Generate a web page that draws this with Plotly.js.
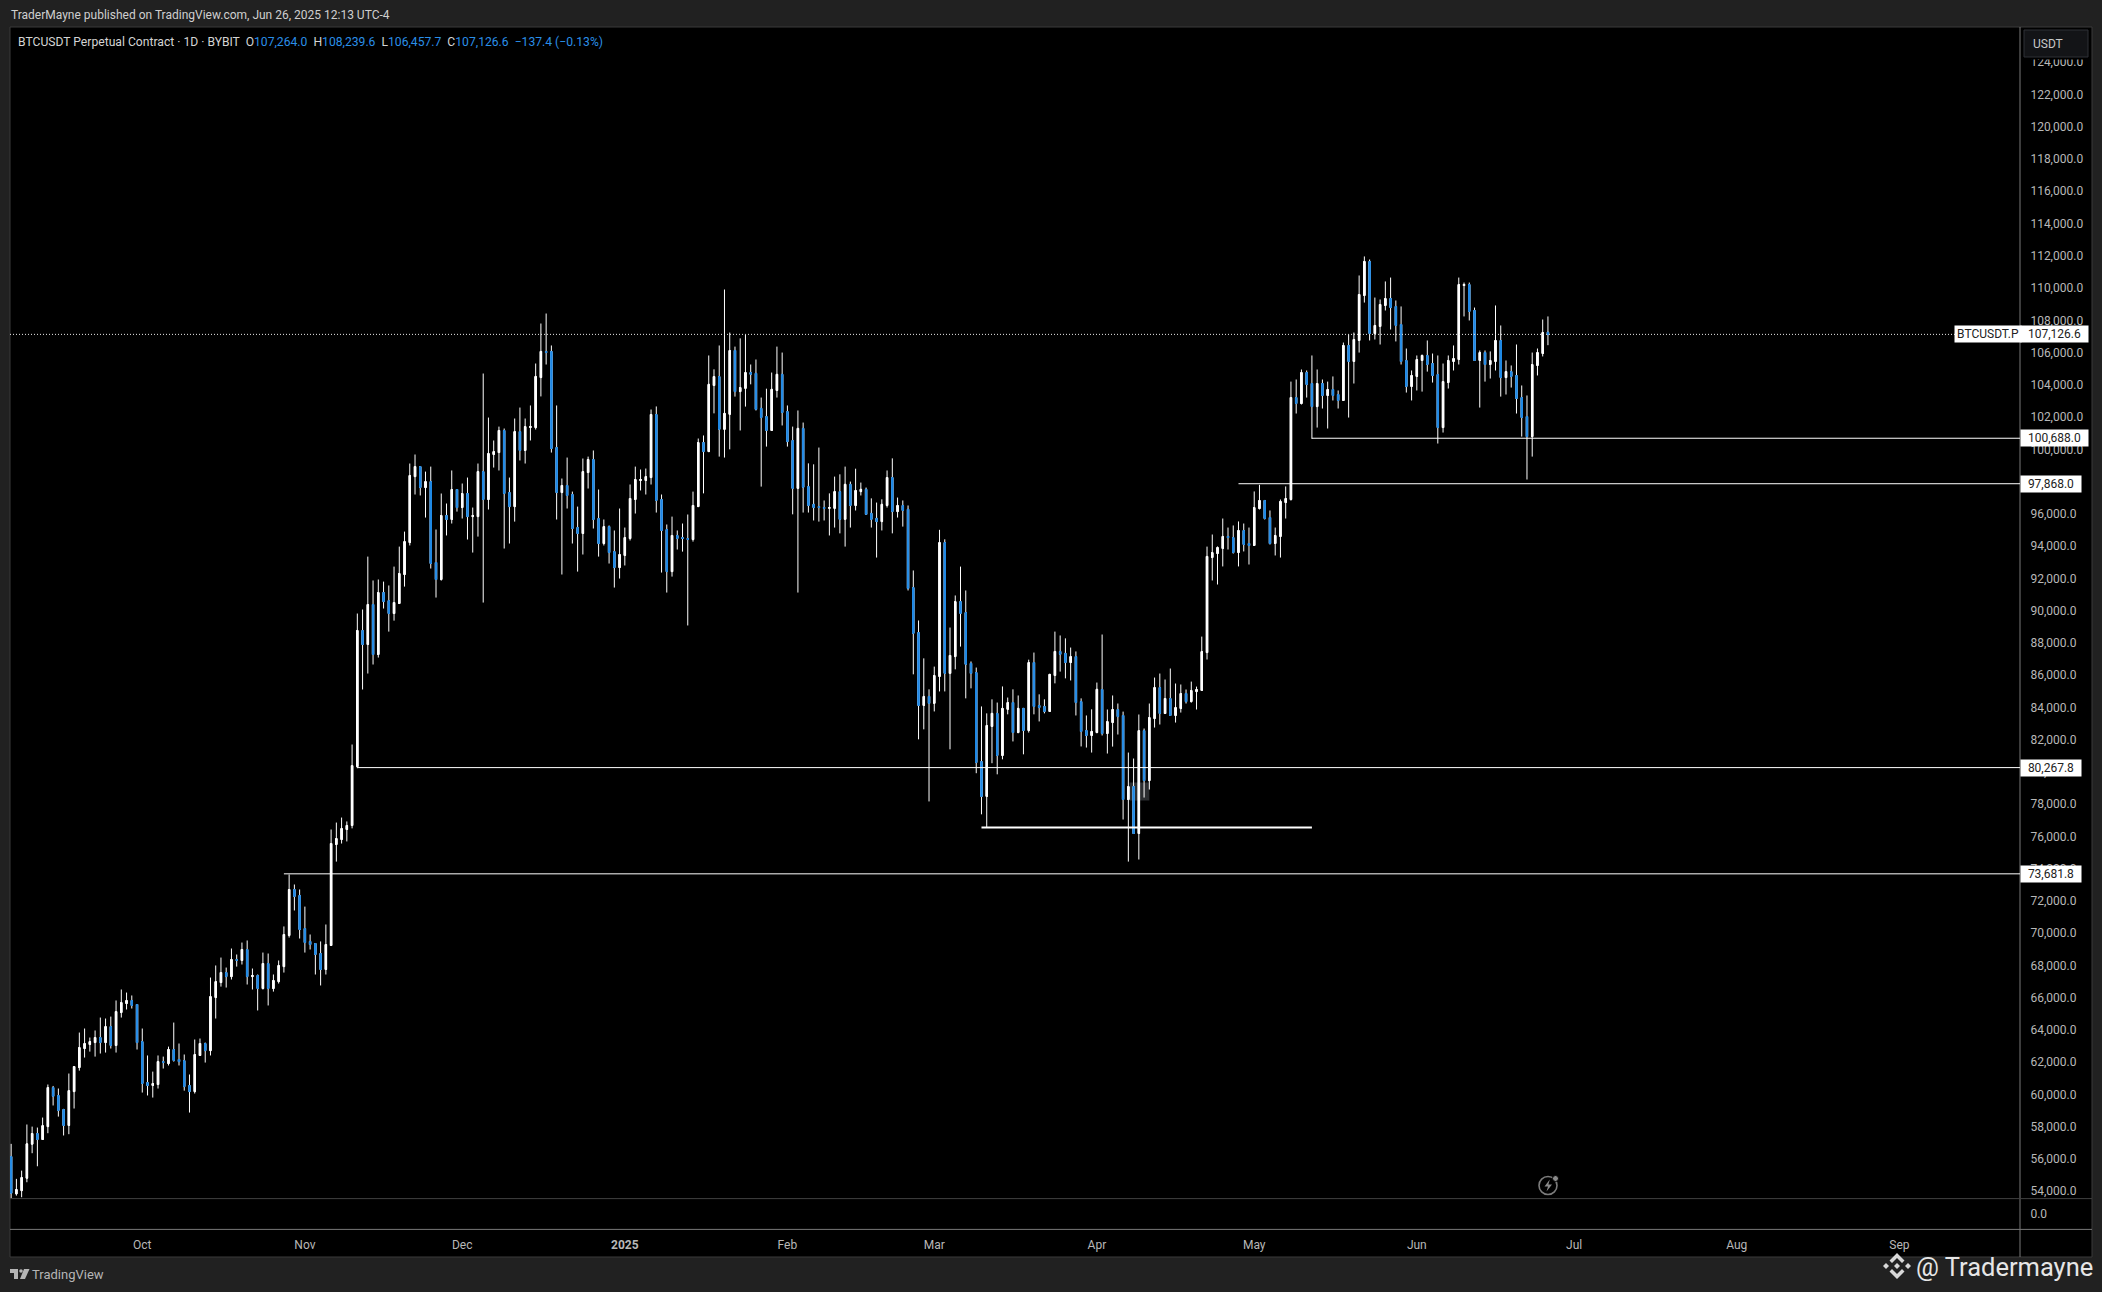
<!DOCTYPE html>
<html><head><meta charset="utf-8">
<script src="https://cdn.plot.ly/plotly-3.0.1.min.js"></script>
<style>html,body{margin:0;padding:0;background:#212121;overflow:hidden}#c{width:2102px;height:1292px}</style>
</head><body><div id="c"></div>
<script>
var firstDay = '2024-09-06';
var opens = [
56150,53840,54040,54810,56920,57580,57210,58010,60430,59940,
59070,58080,60180,61670,62850,63100,63220,63530,63220,64210,
63040,65080,65640,65830,65580,63280,60740,60560,60620,62040,
61920,62790,62170,62100,60560,60180,62420,63160,62720,66010,
66940,67560,67310,68370,68310,68990,67310,67380,66570,68120,
66570,67000,67930,69860,72710,72340,70290,69490,69360,68740,
67750,69240,75500,75810,76430,76680,80330,88770,87900,90380,
87280,91120,90620,89820,90440,92240,94220,98310,98930,97630,
98000,92980,91930,95900,95650,97510,96390,97260,95830,95830,
98620,96890,99680,99800,101170,97320,96450,101100,99930,101350,
101350,104450,106070,106070,100110,97320,97760,97200,95150,94780,
98560,99370,95710,94160,95210,93660,92670,93420,94470,96890,
98070,98070,98250,102160,96890,95030,92420,94660,94530,94470,
94410,96450,100420,99860,103960,104510,101240,102170,106130,103580,
103780,104760,104710,102540,102030,101170,103650,104650,102340,100550,
97580,101300,97690,96590,96450,96390,96340,96340,97380,95660,
97830,96520,97380,97520,96030,95720,95520,96520,98250,96140,
96520,96280,91430,88640,84120,84680,84250,85920,94220,86110,
87150,90560,89880,86730,86160,80640,78480,82820,83630,81020,
83880,84300,82440,83940,82570,86780,84120,84060,83750,85980,
87470,87350,86780,87150,84360,82570,82260,82440,85110,82380,
83060,83870,83500,78290,79090,76180,82560,79460,83310,85230,
83620,84550,83500,83930,84860,84360,84980,85050,87400,93290,
93540,93850,94600,94530,93600,94970,94160,94040,96330,96830,
95770,94160,94600,96700,96890,103210,102840,104760,104080,102650,
104080,103340,103710,103400,103030,106440,105450,106750,109540,111650,
107180,107620,108920,109350,108860,107740,105510,103900,104520,105510,
105820,105320,104640,101350,104140,105450,105570,110160,110220,108610,
105510,106000,105260,105450,106750,104450,104820,104580,103210,102030,
100790,105200,105940,107264];
var highs = [
56940,54770,55280,58140,58010,57950,58570,60620,60530,60370,
59110,61300,61730,63840,64090,63530,63970,64770,64710,64830,
65830,66510,66320,66140,65580,64090,62420,61420,62420,62350,
62970,64460,63160,62480,61240,63410,63470,63220,67250,68000,
68490,67870,69050,68680,69420,69550,67810,67440,68800,68740,
67440,68310,70420,73640,73020,72710,71650,69920,69360,69490,
70540,76430,76860,77170,76930,81700,89820,90070,93350,91870,
91930,91800,91560,92730,93970,94900,99120,99680,98930,98620,
98930,95030,97260,96640,98690,97510,97880,98250,96390,99120,
104700,101970,100550,101410,101290,98250,101910,102590,101910,102720,
105320,107800,108420,106440,102720,98190,99490,97380,96450,99430,
99550,99930,97510,95650,95280,94970,96330,95150,97820,98930,
98750,98810,102470,102660,97200,95340,95830,94970,95400,95960,
97380,100670,100860,105820,104960,106440,109910,107240,106370,106880,
107100,105260,105570,103210,103760,104760,106370,106000,102720,101410,
102410,101660,99130,99070,100110,96830,97270,98310,98450,98930,
98000,98800,97940,97630,96960,96700,96900,98690,99440,97010,
96830,96520,92490,89390,87040,85120,86530,95010,94420,88950,
90940,92730,91250,86850,86470,84060,83630,84500,84300,85300,
84610,85120,84740,83940,86960,87400,84810,84500,86050,88700,
88460,88280,87710,87470,84560,83500,83880,85540,88520,83870,
84740,84240,83740,81200,80830,83560,82690,84240,85850,86100,
85730,86410,85480,85420,85110,85600,85290,88390,93970,94720,
93980,95710,95150,95280,95530,95400,95150,97390,97800,96830,
96210,95150,96890,97700,104200,104330,104950,104890,105820,104950,
104330,104200,104520,103650,106620,107120,107240,110780,111960,111770,
109410,109290,110410,110650,109230,108860,106250,104890,105820,105880,
106750,105940,105820,105320,105820,106440,110650,110340,110340,108790,
106130,106130,106070,108920,107680,105510,105200,106500,103960,103340,
106000,106250,108050,108239.6];
var lows = [
53550,53730,53630,54560,56360,55550,57200,57600,59320,58630,
57460,57540,59130,61480,62290,62660,62350,62540,62600,62850,
62600,64770,65270,65330,62790,60120,59940,59810,60370,61610,
61800,62040,61800,60240,58880,60060,62410,61980,62420,64710,
66690,66630,67130,67930,68060,66820,66510,65210,66510,65520,
66380,66880,67560,69730,71410,69670,68800,68990,67440,66760,
67440,69230,74440,75560,75690,76500,80230,85110,86100,86660,
87090,90130,88700,89380,90430,91490,94040,97200,97140,95770,
92610,90810,91860,94660,95400,96140,95710,94410,93600,94590,
90500,96270,98870,98690,93850,94160,95520,99310,99120,100550,
101230,103280,105260,99800,95650,92240,96330,94160,92420,93480,
97570,95090,93350,94040,92920,91430,91990,92800,94350,96020,
97450,97200,97820,96080,92360,91120,92110,93790,93660,89080,
94280,96440,97270,99860,102230,99550,99490,100000,103270,101170,
102650,104030,102410,97690,100170,101160,103210,101480,100170,95970,
91120,96080,96080,95590,95520,95590,94660,95150,94790,93970,
95150,96210,97140,95960,95150,93290,94970,96390,94790,95770,
95210,91250,86050,82020,82640,78170,83750,84990,84990,81400,
86360,87770,84560,85180,79920,77370,76570,80540,79850,80780,
83570,81890,82400,81090,82440,83570,83130,83630,83740,85490,
86220,85800,85670,83500,81580,81510,81200,82400,82260,81140,
81570,82320,77050,74440,76170,74570,78410,78910,82750,82940,
83610,83490,83060,83680,84240,84300,83870,85040,86970,91870,
91620,92740,93790,93540,92740,93670,92860,94030,96270,95650,
94100,93420,93290,95710,96820,102220,102780,103210,100650,101350,
102530,101290,103030,102530,103020,101970,104080,106000,109100,106750,
106810,106500,108610,107430,106690,105260,103520,103030,103650,103580,
104820,104140,100360,101040,103770,104890,105260,108240,107990,105500,
102590,104200,104390,104890,103270,103400,103830,102220,100790,98130,
99550,104580,105760,106457.7];
var closes = [
53880,54110,54850,56940,57580,57210,58070,60430,59890,59010,
58080,60240,61730,62910,63160,63280,63530,63220,64210,63040,
65140,65700,65830,65520,63220,60680,60560,60680,62040,61980,
62790,62110,62040,60490,60180,62480,63160,62720,66070,67000,
67560,67310,68370,68310,68990,67310,67380,66570,68120,66570,
67070,68000,69920,72710,72280,70230,69420,69300,68680,67750,
69300,75560,75870,76490,76680,80390,88770,87900,90380,87280,
91120,90560,89820,90500,92300,94280,98380,98930,97630,98000,
92920,91930,95900,95650,97510,96390,97260,95830,95900,98620,
96890,99740,99860,101170,97260,96450,101100,99930,101410,101420,
104520,106070,106000,100050,97320,97760,97140,95090,94780,98620,
99370,95650,94160,95210,93600,92670,93480,94530,96950,98130,
98130,98310,102160,96830,94970,92420,94660,94470,94470,94410,
96520,100420,99860,104030,104510,101240,102230,106130,103580,103830,
104760,104650,102480,101970,101170,103720,104650,102280,100480,97580,
101300,97650,96520,96390,96390,96340,96390,97380,95660,97830,
96520,97450,97520,95970,95660,95520,96590,98250,96140,96520,
96210,91380,88590,84120,84680,84250,85980,94220,86110,87220,
90560,89830,86670,86110,80580,78480,82880,83630,81020,83940,
84300,82440,83940,82570,86780,84060,83990,83750,86050,87470,
87290,86780,87150,84300,82510,82260,82510,85120,82380,83120,
83870,83430,78290,79090,76180,82560,79460,83370,85230,83620,
84550,83500,83990,84860,84360,85050,85110,87460,93360,93600,
93910,94600,94530,93600,94970,94100,94040,96390,96830,95710,
94160,94660,96770,96950,103210,102840,104760,104020,102650,104080,
103340,103710,103340,103030,106440,105450,106810,109600,111650,107180,
107680,108980,109350,108790,107680,105450,103900,104580,105570,105820,
105260,104580,101350,104200,105510,105630,110220,110220,108550,105510,
106000,105260,105510,106750,104450,104820,104520,103150,101970,100790,
105260,106000,107240,107126.6];

var priceTicks = [54000,56000,58000,60000,62000,64000,66000,68000,70000,72000,74000,76000,78000,80000,82000,84000,86000,88000,90000,92000,94000,96000,98000,100000,102000,104000,106000,108000,110000,112000,114000,116000,118000,120000,122000,124000];
var monthTicks = ['2024-10-01','2024-11-01','2024-12-01','2025-01-01','2025-02-01','2025-03-01','2025-04-01','2025-05-01','2025-06-01','2025-07-01','2025-08-01','2025-09-01'];
var monthLabels = ['Oct','Nov','Dec','<b>2025</b>','Feb','Mar','Apr','May','Jun','Jul','Aug','Sep'];
var levelValues = [100688.0, 97868.0, 80267.8, 73681.8];
var levelLabels = ['100,688.0','97,868.0','80,267.8','73,681.8'];
var levelStarts = ['2025-05-12','2025-04-28','2024-11-11','2024-10-28'];
var levelTagWidths = [67,60,60,60];
var zoneValue = 76554, zoneStart = '2025-03-10', zoneEnd = '2025-05-12';
var lastPrice = 107126.6, lastPriceLabel = '107,126.6';
var boxDates = ['2025-04-07 05:00','2025-04-11 00:00'], boxPrices = [78228,79344];

var dates = [];
(function(){var t = Date.parse(firstDay+'T00:00:00Z');
  for (var i=0;i<opens.length;i++){dates.push(new Date(t+i*86400000).toISOString().slice(0,10));}})();
var bodyTop = opens.map(function(o,i){return Math.max(o,closes[i]);});
var bodyBottom = opens.map(function(o,i){return Math.min(o,closes[i]);});

var W=2102,H=1292,mL=10,mR=10,mT=27,mB=35,PW=W-mL-mR,PH=H-mT-mB;
function px(x){return (x-mL)/PW;}
function py(y){return (H-mB-y)/PH;}
var UP='#ffffff', DOWN='#1e88e5', TXT='#b8b8b8', BG='#212121';
var xEnd='2025-09-24';

function poly(pts,fill){return {type:'path',xref:'paper',yref:'paper',layer:'above',fillcolor:fill,line:{width:0},
  path:'M'+pts.map(function(p){return px(p[0])+','+py(p[1]);}).join(' L')+' Z'};}
function hline(x0,x1,y,c){return {type:'line',xref:'paper',yref:'paper',layer:'above',x0:px(x0),x1:px(x1),y0:py(y),y1:py(y),line:{color:c,width:1}};}
function vline(x,y0,y1,c){return {type:'line',xref:'paper',yref:'paper',layer:'above',x0:px(x),x1:px(x),y0:py(y0),y1:py(y1),line:{color:c,width:1}};}
function circ(cx,cy,r,fill,lc,lw){return {type:'circle',xref:'paper',yref:'paper',layer:'above',x0:px(cx-r),x1:px(cx+r),y0:py(cy-r),y1:py(cy+r),fillcolor:fill,line:{color:lc,width:lw}};}
function txt(x,y,t,size,color,anchor,extra){var a={xref:'paper',yref:'paper',x:px(x),y:py(y),text:t,showarrow:false,xanchor:anchor||'left',yanchor:'middle',font:{family:'Roboto, sans-serif',size:size,color:color}};
  if(extra){for(var k in extra)a[k]=extra[k];} return a;}

var shapes=[
 {type:'rect',xref:'paper',yref:'paper',layer:'below',x0:px(10),x1:px(2092),y0:py(27),y1:py(1257),fillcolor:'#000000',line:{color:'#3a3a3a',width:1}},
 {type:'rect',xref:'x',yref:'y',layer:'below',x0:boxDates[0],x1:boxDates[1],y0:boxPrices[0],y1:boxPrices[1],fillcolor:'#2b2d30',line:{width:0}},
 vline(2020,27,1257,'#787878'),
 hline(10,2020,1198.6,'#404040'),
 hline(2020,2092,1198.6,'#404040'),
 hline(10,2092,1229.4,'#787878'),
 {type:'line',xref:'paper',yref:'y',layer:'above',x0:0,x1:px(2020),y0:lastPrice,y1:lastPrice,line:{color:'#e8e8e8',width:1,dash:'1px,2px'}},
 {type:'line',xref:'x',yref:'y',layer:'above',x0:zoneStart,x1:zoneEnd,y0:zoneValue,y1:zoneValue,line:{color:'#ffffff',width:2}},
 {type:'rect',xref:'paper',yref:'paper',layer:'above',x0:px(2024),x1:px(2088),y0:py(57),y1:py(59.5),fillcolor:'#000000',line:{width:0}},
 {type:'rect',xref:'paper',yref:'paper',layer:'above',x0:px(2024),x1:px(2088),y0:py(30),y1:py(57),fillcolor:'#131417',line:{color:'#2f3136',width:1}},
 circ(1548,1185.5,9,'rgba(0,0,0,0)','#7c7c7c',1.6),
 circ(1555.5,1178.5,3,'#8a8a8a','#000000',1),
 poly([[1549.8,1179.5],[1544.5,1186.5],[1548,1186.5],[1546.5,1191.5],[1552,1184.5],[1548.4,1184.5]],'#8a8a8a'),
 poly([[10,1269],[18,1269],[18,1279],[14,1279],[14,1273],[10,1273]],'#b5b5b5'),
 circ(21,1271,1.8,'#b5b5b5','#b5b5b5',0),
 poly([[24,1269],[29.5,1269],[25,1279],[20,1279]],'#b5b5b5'),
 poly([[1897,1253],[1904.5,1260.5],[1902,1263],[1897,1258],[1892,1263],[1889.5,1260.5]],'#d8d8d8'),
 poly([[1897,1279],[1904.5,1271.5],[1902,1269],[1897,1274],[1892,1269],[1889.5,1271.5]],'#d8d8d8'),
 poly([[1897,1263],[1900,1266],[1897,1269],[1894,1266]],'#d8d8d8'),
 poly([[1886,1263],[1889,1266],[1886,1269],[1883,1266]],'#d8d8d8'),
 poly([[1908,1263],[1911,1266],[1908,1269],[1905,1266]],'#d8d8d8')
];
levelValues.forEach(function(v,i){
  shapes.push({type:'line',xref:'x',yref:'y',layer:'above',x0:levelStarts[i],x1:xEnd,y0:v,y1:v,line:{color:'#ffffff',width:1}});
});

var B='<span style="color:#2a8fe8">';
var annotations=[
 txt(8.5,15,'TraderMayne published on TradingView.com, Jun 26, 2025 12:13 UTC-4',12,'#cfcfcf'),
 txt(15.5,42,'BTCUSDT Perpetual Contract · 1D · BYBIT  O'+B+'107,264.0</span>  H'+B+'108,239.6</span>  L'+B+'106,457.7</span>  C'+B+'107,126.6</span>  '+B+'−137.4 (−0.13%)</span>',12.15,'#d4d4d4'),
 txt(2031,44,'USDT',12,'#c8c8c8'),
 txt(30,1274,'TradingView',13,'#b5b5b5'),
 txt(1914,1267,'@ Tradermayne',25.5,'#e6e6e6'),
 {xref:'paper',yref:'y',x:px(1954),y:lastPrice,xanchor:'left',yanchor:'middle',showarrow:false,text:'BTCUSDT.P',bgcolor:'#ffffff',width:66,height:16,borderpad:0,font:{family:'Roboto, sans-serif',size:12,color:'#222222'}},
 {xref:'paper',yref:'y',x:px(2020),y:lastPrice,xanchor:'left',yanchor:'middle',showarrow:false,text:lastPriceLabel,bgcolor:'#ffffff',width:67,height:16,borderpad:0,font:{family:'Roboto, sans-serif',size:12,color:'#222222'}}
];
levelValues.forEach(function(v,i){
  annotations.push({xref:'paper',yref:'y',x:px(2020),y:v,xanchor:'left',yanchor:'middle',showarrow:false,text:levelLabels[i],bgcolor:'#ffffff',width:levelTagWidths[i],height:16,borderpad:0,font:{family:'Roboto, sans-serif',size:12,color:'#222222'}});
});

var wicks={type:'candlestick',x:dates,open:opens,high:highs,low:lows,close:closes,whiskerwidth:0,hoverinfo:'skip',showlegend:false,
  increasing:{line:{color:UP,width:1},fillcolor:UP},decreasing:{line:{color:UP,width:1},fillcolor:UP}};
var bodies={type:'candlestick',x:dates,open:opens,high:bodyTop,low:bodyBottom,close:closes,whiskerwidth:0,hoverinfo:'skip',showlegend:false,
  increasing:{line:{color:UP,width:1},fillcolor:UP},decreasing:{line:{color:DOWN,width:1},fillcolor:DOWN}};
var zeroPane={type:'scatter',mode:'none',x:[dates[0]],y:[0],yaxis:'y2',hoverinfo:'skip',showlegend:false};

var layout={
 width:W,height:H,margin:{l:mL,r:mR,t:mT,b:mB,pad:0},
 paper_bgcolor:BG,plot_bgcolor:'#000000',showlegend:false,boxgap:0.6,dragmode:false,
 xaxis:{type:'date',domain:[0,px(2020)],range:['2024-09-05 18:43','2025-09-24 00:00'],anchor:'free',position:py(1229),
   rangeslider:{visible:false},tickmode:'array',tickvals:monthTicks,ticktext:monthLabels,ticks:'outside',ticklen:5,tickcolor:'rgba(0,0,0,0)',
   tickfont:{family:'Roboto, sans-serif',size:12,color:TXT},showgrid:false,zeroline:false,showline:false,fixedrange:true},
 yaxis:{domain:[py(1198),1],range:[53583,126185],side:'right',anchor:'x',tickmode:'array',tickvals:priceTicks,tickformat:',.1f',
   ticks:'outside',ticklen:7,tickcolor:'rgba(0,0,0,0)',tickfont:{family:'Roboto, sans-serif',size:12,color:TXT},showgrid:false,zeroline:false,showline:false,fixedrange:true},
 yaxis2:{domain:[py(1229),py(1198)],range:[-1,1],side:'right',anchor:'x',tickmode:'array',tickvals:[0],ticktext:['0.0'],
   ticks:'outside',ticklen:7,tickcolor:'rgba(0,0,0,0)',tickfont:{family:'Roboto, sans-serif',size:12,color:TXT},showgrid:false,zeroline:false,showline:false,fixedrange:true},
 shapes:shapes,annotations:annotations
};
Plotly.newPlot('c',[wicks,bodies,zeroPane],layout,{displayModeBar:false,staticPlot:true});
</script></body></html>
